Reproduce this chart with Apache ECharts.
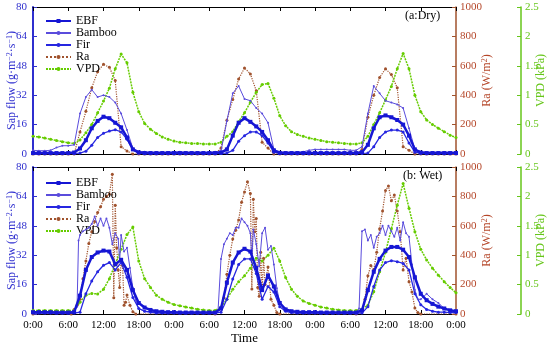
<!DOCTYPE html>
<html>
<head>
<meta charset="utf-8">
<script src="https://cdn.jsdelivr.net/npm/echarts@6/dist/echarts.min.js"></script>
<style>
html,body{margin:0;padding:0;background:#fff;}
#chart{width:550px;height:344px;}
</style>
</head>
<body>
<div id="chart"></div>
<script>
// ---------------- DATA ----------------
const seriesNames = ['EBF', 'Bamboo', 'Fir', 'Ra', 'VPD'];
const sapTicks = [0, 16, 32, 48, 64, 80];
const raTicks = [0, 200, 400, 600, 800, 1000];
const vpdTicks = [0, 0.5, 1, 1.5, 2, 2.5];
// hourly grid 0..72 h (three days)
const hours = Array.from({length: 73}, (_, i) => i);

// (a) Dry period, hourly values
const dryEBF = [0.5,0.5,0.5,0.5,0.5,0.5,0.5,0.8,
  3,7.5,14,18,20.3,19.5,17,14.5,9,2.5,0.8,
  0.5,0.5,0.5,0.5,0.5,0.5,0.5,0.5,0.5,0.5,0.5,0.5,0.5,
  0.8,2.5,10,17,19.5,17.5,15,12,7.5,2,0.6,
  0.5,0.5,0.5,0.5,0.5,0.5,0.5,0.5,0.5,0.5,0.5,0.5,0.5,
  1,5,14,20,21,20,18.5,16,10,2.5,0.8,
  0.5,0.5,0.5,0.5,0.5,0.5];
const dryBamboo = [2.0,1.8,1.8,2.0,3.5,4.5,4.5,5.0,
  22,31,35,31,32,31,28,22,13,3,1.5,
  1.2,1.0,1.0,1.0,1.0,1.2,1.2,1.0,1.0,1.0,1.0,1.0,1.2,
  1.5,18,33,37,30,29,25,22,17,2.5,1.2,
  1.0,1.0,1.0,1.2,2.0,2.5,2.5,2.5,2.5,2.5,2.5,2.0,2.0,
  4,22,37,33,29,28,27,25,14,2.5,1.2,
  1.0,1.0,1.0,1.0,1.0,1.0];
const dryFir = [0.3,0.3,0.3,0.3,0.3,0.3,0.3,0.3,0.5,
  1.5,4.8,9,11.3,12.5,13.2,12,8,2.5,0.5,
  0.3,0.3,0.3,0.3,0.3,0.3,0.3,0.3,0.3,0.3,0.3,0.3,0.3,0.3,
  0.5,2,7,10,12,12,10,6,1,0.3,
  0.3,0.3,0.3,0.3,0.3,0.3,0.3,0.3,0.3,0.3,0.3,0.3,0.3,0.3,
  0.5,4,9,12,13,13,12,6,1,0.3,
  0.3,0.3,0.3,0.3,0.3,0.3];
const dryRa = [0,0,0,0,0,0,0,0,
  150,290,450,560,610,590,500,50,20,0,
  0,0,0,0,0,0,0,0,0,0,0,0,0,0,
  40,230,370,510,585,545,430,80,40,0,
  0,0,0,0,0,0,0,0,0,0,0,0,0,0,
  30,250,400,520,580,540,450,50,25,0,
  0,0,0,0,0,0,0];
const dryVPD = [0.30,0.29,0.27,0.25,0.23,0.21,0.19,0.18,0.24,0.36,0.50,0.70,0.90,1.12,1.45,1.70,1.55,1.05,0.72,0.52,0.42,0.35,0.29,0.25,0.22,
  0.20,0.19,0.18,0.18,0.17,0.17,0.17,0.20,0.30,0.38,0.55,0.70,0.88,1.05,1.18,1.20,0.95,0.65,0.48,0.38,0.33,0.30,0.27,0.25,
  0.23,0.21,0.20,0.19,0.18,0.17,0.17,0.19,0.30,0.50,0.70,0.92,1.15,1.45,1.71,1.45,1.00,0.72,0.58,0.50,0.44,0.38,0.32,0.28];

// (b) Wet period, hourly values
const wetEBF = [1.0,1.0,1.0,1.0,0.8,0.8,0.8,
  1,10,24,31,33.5,34.5,34,27,29.5,24,13,6,3.5,2.2,1.5,1.2,1,1,
  0.8,0.8,0.8,0.8,0.8,0.8,0.8,
  3,17,28,33.5,35.5,34,25,13,21,15,6,2.5,1.5,1.2,1,1,1,
  0.8,0.8,0.8,0.8,0.8,0.8,0.8,
  2,13,23,30,34.5,36.5,36.5,35,31,20,11,7.5,5.5,4,3,2,1.5];
const wetFir = [0.5,0.5,0.5,0.5,0.5,0.5,0.5,0.5,
  1,11,18,23,26.5,28,24,28,20,9,3,1.5,1,
  0.5,0.5,0.5,0.5,0.5,0.5,0.5,0.5,0.5,0.5,0.5,
  1,8,19,27,30,30,22,8,15,12,4,1.5,0.8,
  0.5,0.5,0.5,0.5,0.5,0.5,0.5,0.5,0.5,0.5,0.5,
  0.5,4,15,24,28,29,28.5,27.5,24,11,5,2.5,1.5,1,1,0.8,0.8];
const wetVPD = [0.06,0.06,0.06,0.06,0.06,0.06,0.06,0.06,
  0.2,0.32,0.35,0.34,0.42,0.6,0.85,1.1,1.35,1.48,0.9,0.6,0.45,0.32,0.25,0.2,0.16,
  0.14,0.12,0.10,0.08,0.07,0.06,0.06,
  0.12,0.25,0.42,0.55,0.65,0.78,0.95,0.9,1.0,1.12,0.9,0.62,0.42,0.3,0.22,0.18,0.15,
  0.12,0.1,0.08,0.07,0.06,0.06,0.06,
  0.08,0.15,0.38,0.72,1.05,1.45,1.85,2.22,1.8,1.4,1.1,0.92,0.78,0.66,0.55,0.45,0.36];
// irregularly sampled wet series (hour, value)
const wetRaHours = [0,6.5,7,7.5,8,8.5,9,9.5,10,10.5,11,11.5,12,12.5,13,13.5,13.75,14,14.25,14.5,14.75,15,15.25,15.5,15.75,16,16.5,17,17.5,
  31,32,32.5,33,33.5,34,34.5,35,35.5,36,36.5,37,37.25,37.5,37.75,38,38.25,38.5,38.75,39,39.25,39.5,40,40.5,41,41.5,42,
  55,56,56.5,57,57.5,58,58.5,59,59.5,60,60.5,61,61.5,62,62.5,63,63.5,64,64.5,65,65.5,66,72];
const wetRaVals = [0,0,30,60,100,240,360,480,560,630,690,730,780,800,815,950,110,740,450,300,180,360,330,60,80,130,60,15,0,
  0,40,110,270,400,510,570,640,760,830,900,820,170,780,560,650,180,120,420,160,380,200,320,100,60,10,0,
  0,20,100,260,330,300,420,580,700,840,870,770,810,700,560,300,380,220,150,40,10,0,0];
const wetBambooHours = [0,4,7,7.5,7.75,8,8.5,9,9.5,10,10.5,11,11.5,12,12.5,13,13.5,14,14.5,14.75,15,15.5,16,16.5,17,17.5,18,19,20,24,
  31,31.5,32,32.5,33,33.5,34,34.5,35,35.5,36,36.5,37,37.25,37.5,38,38.5,39,39.5,40,40.5,41,41.5,42,42.5,43,44,48,
  52,55,55.5,56,56.5,57,57.5,58,58.5,59,59.5,60,60.5,61,61.5,62,62.5,63,63.5,64,64.5,65,65.5,66,67,68,69,70,71,72];
const wetBambooVals = [1,1,1.5,4,40,43,45,46,47,49,53,48,52,48,52,47,38,44,41,29,43,34,36,25,14,7,3,1.5,1,0.8,
  1,2,30,38,41,44,43,47,47,52,50,48,44,30,46,38,26,44,47,35,37,27,14,6,4,2.5,1.5,0.8,
  0.8,1,3,45,46,40,43,36,42,44,48,43,48,45,42,47,40,50,44,42,27,13,8,8,11,8,6,3,2,1.5];

// ---------------- STYLE ----------------
const SERIF = 'Liberation Serif';
const BLUE = '#2f2fcf';
const BROWN = '#a0522d';
const BROWNTXT = '#b5472a';
const GREEN = '#66c61a';
const C = {EBF:'#1616d4', Bamboo:'#5a4cdc', Fir:'#2626e0', Ra:'#a0522d', VPD:'#66cc00'};

const pair = (xs, ys) => xs.map((x, i) => [x, ys[i]]);

function xAxes(g, showLabels) {
  return [
    {gridIndex:g, type:'value', min:0, max:72, interval:6, position:'bottom',
     axisLine:{show:true, onZero:false, lineStyle:{color:'#000', width:1}},
     axisTick:{show:true, inside:true, length:4, lineStyle:{color:'#000'}},
     axisLabel:{show:showLabels, color:'#000', fontFamily:SERIF, fontSize:11, margin:6,
       formatter:v => (v % 24) + ':00'},
     splitLine:{show:false},
     name: showLabels ? 'Time' : '', nameLocation:'middle', nameGap:18, nameMoveOverlap:false,
     nameTextStyle:{color:'#000', fontFamily:SERIF, fontSize:13}},
    {gridIndex:g, type:'value', min:0, max:72, interval:6, position:'top',
     axisLine:{show:true, onZero:false, lineStyle:{color:'#000', width:1}},
     axisTick:{show:true, inside:true, length:4, lineStyle:{color:'#000'}},
     axisLabel:{show:false}, splitLine:{show:false}}
  ];
}
function yAxes(g) {
  return [
    {gridIndex:g, type:'value', min:sapTicks[0], max:sapTicks[sapTicks.length-1], interval:sapTicks[1]-sapTicks[0], position:'left',
     axisLine:{show:true, onZero:false, lineStyle:{color:BLUE, width:2}},
     axisTick:{show:true, inside:true, length:4, lineStyle:{color:BLUE}},
     axisLabel:{color:BLUE, fontFamily:SERIF, fontSize:11, margin:6, formatter:v => String(v)},
     splitLine:{show:false},
     name:'{a|Sap flow (g·m}{s|−2}{a|·s}{s|−1}{a|)}', nameLocation:'middle', nameGap:15, nameRotate:90, nameMoveOverlap:false,
     nameTextStyle:{color:BLUE, fontFamily:SERIF, fontSize:12,
       rich:{a:{color:BLUE, fontFamily:SERIF, fontSize:12}, s:{color:BLUE, fontFamily:SERIF, fontSize:8, verticalAlign:'top'}}}},
    {gridIndex:g, type:'value', min:raTicks[0], max:raTicks[raTicks.length-1], interval:raTicks[1]-raTicks[0], position:'right', offset:0,
     axisLine:{show:true, onZero:false, lineStyle:{color:BROWN, width:1.5}},
     axisTick:{show:true, inside:true, length:4, lineStyle:{color:BROWN}},
     axisLabel:{color:BROWNTXT, fontFamily:SERIF, fontSize:11, margin:4, formatter:v => String(v)},
     splitLine:{show:false},
     name:'{a|Ra (W/m}{s|2}{a|)}', nameLocation:'middle', nameGap:25, nameRotate:90, nameMoveOverlap:false,
     nameTextStyle:{color:BROWNTXT, fontFamily:SERIF, fontSize:12,
       rich:{a:{color:BROWNTXT, fontFamily:SERIF, fontSize:12}, s:{color:BROWNTXT, fontFamily:SERIF, fontSize:8, verticalAlign:'top'}}}},
    {gridIndex:g, type:'value', min:vpdTicks[0], max:vpdTicks[vpdTicks.length-1], interval:vpdTicks[1]-vpdTicks[0], position:'right', offset:65,
     axisLine:{show:true, onZero:false, lineStyle:{color:GREEN, width:1.5}},
     axisTick:{show:true, inside:true, length:4, lineStyle:{color:GREEN}},
     axisLabel:{color:GREEN, fontFamily:SERIF, fontSize:11, margin:4, formatter:v => String(v)},
     splitLine:{show:false},
     name:'VPD (kPa)', nameLocation:'middle', nameGap:14, nameRotate:90, nameMoveOverlap:false,
     nameTextStyle:{color:GREEN, fontFamily:SERIF, fontSize:12}}
  ];
}

function mk(name, data, xi, yi) {
  const base = {name, type:'line', data, xAxisIndex:xi, yAxisIndex:yi, showSymbol:true, animation:false, z:3,
    itemStyle:{color:C[name]}};
  if (name === 'EBF') Object.assign(base, {symbol:'rect', symbolSize:4, lineStyle:{width:2.5, color:C[name]}, z:5});
  if (name === 'Bamboo') Object.assign(base, {symbol:'circle', symbolSize:2, lineStyle:{width:1, color:C[name]}, z:4});
  if (name === 'Fir') Object.assign(base, {symbol:'circle', symbolSize:3, lineStyle:{width:1.3, color:C[name]}, z:4});
  if (name === 'Ra') Object.assign(base, {symbol:'circle', symbolSize:3, lineStyle:{width:1.2, type:'dotted', color:C[name]}, z:2});
  if (name === 'VPD') Object.assign(base, {symbol:'circle', symbolSize:3, lineStyle:{width:1.5, type:[2,1], color:C[name]}, z:2});
  return base;
}

const series = [
  mk('Ra', pair(hours, dryRa), 0, 1),
  mk('VPD', pair(hours, dryVPD), 0, 2),
  mk('Bamboo', pair(hours, dryBamboo), 0, 0),
  mk('Fir', pair(hours, dryFir), 0, 0),
  mk('EBF', pair(hours, dryEBF), 0, 0),
  mk('Ra', pair(wetRaHours, wetRaVals), 2, 4),
  mk('VPD', pair(hours, wetVPD), 2, 5),
  mk('Bamboo', pair(wetBambooHours, wetBambooVals), 2, 3),
  mk('Fir', pair(hours, wetFir), 2, 3),
  mk('EBF', pair(hours, wetEBF), 2, 3)
];

const legendBase = {data:seriesNames, orient:'vertical', left:40, itemWidth:25, itemHeight:5, itemGap:0,
  textStyle:{color:'#000', fontFamily:SERIF, fontSize:12, lineHeight:11.5}, selectedMode:false};

const option = {
  animation:false,
  backgroundColor:'#fff',
  grid:[
    {left:33, top:7, width:423, height:147, containLabel:false, outerBoundsMode:'none'},
    {left:33, top:167, width:423, height:147, containLabel:false, outerBoundsMode:'none'}
  ],
  xAxis:[...xAxes(0, false), ...xAxes(1, true)],
  yAxis:[...yAxes(0), ...yAxes(1)],
  legend:[Object.assign({top:10}, legendBase), Object.assign({top:172}, legendBase)],
  graphic:[
    {type:'text', left:405, top:10, style:{text:'(a:Dry)', fill:'#000', font:'12px "Liberation Serif"'}},
    {type:'text', left:403, top:170, style:{text:'(b: Wet)', fill:'#000', font:'12px "Liberation Serif"'}}
  ],
  series
};

const chart = echarts.init(document.getElementById('chart'), null, {renderer:'canvas'});
chart.setOption(option);
</script>
</body>
</html>
